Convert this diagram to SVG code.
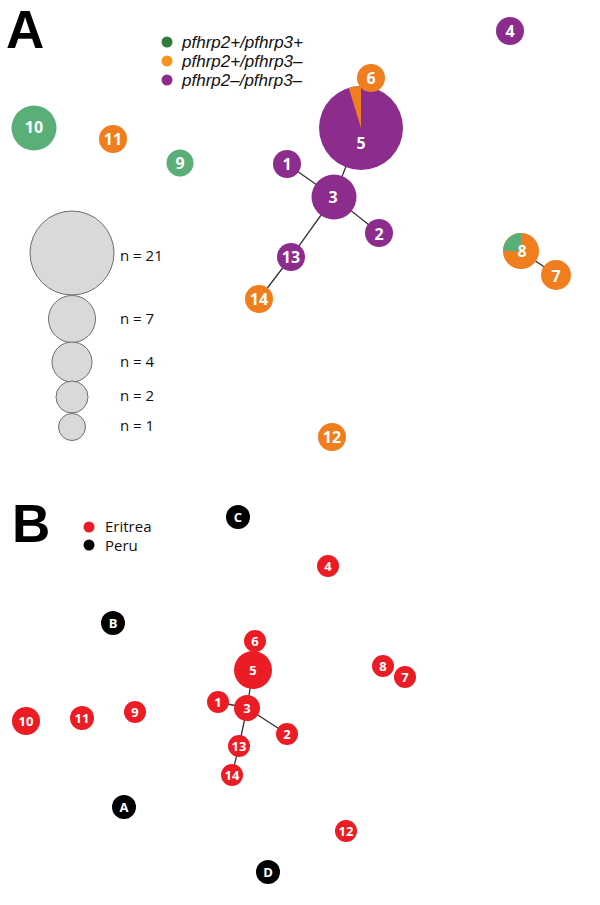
<svg xmlns="http://www.w3.org/2000/svg" width="600" height="905" viewBox="0 0 600 905">
<style>
.pl{font-family:"Liberation Sans",Arial,sans-serif;font-weight:bold;font-size:53px;fill:#000}
.lg{font-family:"Liberation Sans",Arial,sans-serif;font-style:italic;font-size:17px;fill:#111}
.lb{font-family:"Open Sans","Liberation Sans",sans-serif;font-size:15px;fill:#111}
.t{font-family:"Open Sans","Liberation Sans",sans-serif;font-weight:bold;font-size:16px;fill:#fff;text-anchor:middle;dominant-baseline:central}
.ts{font-family:"Open Sans","Liberation Sans",sans-serif;font-weight:bold;font-size:13px;fill:#fff;text-anchor:middle;dominant-baseline:central}
.g{fill:#5aaf78}.o{fill:#f07e1e}.p{fill:#8c2d8e}.r{fill:#ec1c24}.k{fill:#000}
.sz{fill:#d9d9d9;stroke:#6d6d6d;stroke-width:1}
.e{stroke:#333;stroke-width:1.3;fill:none}
</style>
<text class="pl" x="6" y="48">A</text>
<g id="legendA">
<circle cx="167" cy="42" r="5.5" fill="#2e7d3c"/><text class="lg" x="182" y="48">pfhrp2+/pfhrp3+</text>
<circle cx="167" cy="61" r="5.5" fill="#f7941d"/><text class="lg" x="182" y="67">pfhrp2+/pfhrp3–</text>
<circle cx="167" cy="80" r="5.5" fill="#8c2d8e"/><text class="lg" x="182" y="86">pfhrp2–/pfhrp3–</text>
</g>
<g id="sizeLegend">
<circle class="sz" cx="72" cy="253" r="42"/><text class="lb" x="120" y="261">n = 21</text>
<circle class="sz" cx="72" cy="319" r="23.5"/><text class="lb" x="120" y="324">n = 7</text>
<circle class="sz" cx="72" cy="362" r="20"/><text class="lb" x="120" y="367">n = 4</text>
<circle class="sz" cx="72" cy="397" r="16"/><text class="lb" x="120" y="401">n = 2</text>
<circle class="sz" cx="72" cy="427" r="13.5"/><text class="lb" x="120" y="431">n = 1</text>
</g>
<g id="edgesA">
<line class="e" x1="287" y1="164" x2="334" y2="197"/>
<line class="e" x1="334" y1="197" x2="361" y2="128"/>
<line class="e" x1="334" y1="197" x2="379" y2="233"/>
<line class="e" x1="334" y1="197" x2="291" y2="257"/>
<line class="e" x1="291" y1="257" x2="259" y2="299"/>
<line class="e" x1="521" y1="251" x2="556" y2="275"/>
</g>
<g id="A10"><circle class="g" cx="34" cy="128" r="22.5"/><text class="t" x="34" y="127">10</text></g>
<g id="A11"><circle class="o" cx="113" cy="139" r="14"/><text class="t" x="113" y="139">11</text></g>
<g id="A9"><circle class="g" cx="180" cy="163" r="13.5"/><text class="t" x="180" y="163">9</text></g>
<g id="A5"><circle class="p" cx="361" cy="128" r="42"/><path class="o" d="M361,128 L361,86 A42,42 0 0 0 348.7,87.8 Z"/><text class="t" x="361" y="143">5</text></g>
<g id="A6"><circle class="o" cx="371" cy="78" r="14"/><text class="t" x="371" y="78">6</text></g>
<g id="A1"><circle class="p" cx="287" cy="164" r="14"/><text class="t" x="287" y="164">1</text></g>
<g id="A3"><circle class="p" cx="334" cy="197" r="22.5"/><text class="t" x="333" y="197">3</text></g>
<g id="A2"><circle class="p" cx="379" cy="233" r="14"/><text class="t" x="379" y="234">2</text></g>
<g id="A13"><circle class="p" cx="291" cy="257" r="14"/><text class="t" x="291" y="257">13</text></g>
<g id="A14"><circle class="o" cx="259" cy="299" r="14"/><text class="t" x="259" y="299">14</text></g>
<g id="A4"><circle class="p" cx="510" cy="31" r="14"/><text class="t" x="510" y="31">4</text></g>
<g id="A8"><circle class="o" cx="521" cy="251" r="18"/><path class="g" d="M521,251 L521,233 A18,18 0 0 0 503,251 Z"/><text class="t" x="522" y="251">8</text></g>
<g id="A7"><circle class="o" cx="556" cy="275" r="15"/><text class="t" x="556" y="276">7</text></g>
<g id="A12"><circle class="o" cx="332" cy="437" r="14"/><text class="t" x="332" y="437">12</text></g>

<text class="pl" x="12" y="542">B</text>
<g id="legendB">
<circle cx="89" cy="527" r="5.5" fill="#ec1c24"/><text class="lb" x="105" y="532">Eritrea</text>
<circle cx="89" cy="545" r="5.5" fill="#000"/><text class="lb" x="105" y="551">Peru</text>
</g>
<g id="edgesB">
<line class="e" x1="253" y1="670" x2="247" y2="708"/>
<line class="e" x1="218" y1="702" x2="247" y2="708"/>
<line class="e" x1="247" y1="708" x2="287" y2="734"/>
<line class="e" x1="247" y1="708" x2="239" y2="746"/>
<line class="e" x1="239" y1="746" x2="232" y2="775"/>
</g>
<g id="BC"><circle class="k" cx="238" cy="517" r="12"/><text class="ts" x="238" y="517">C</text></g>
<g id="BB"><circle class="k" cx="113" cy="623" r="12"/><text class="ts" x="113" y="623">B</text></g>
<g id="BA"><circle class="k" cx="124" cy="807" r="12"/><text class="ts" x="124" y="807">A</text></g>
<g id="BD"><circle class="k" cx="268" cy="872" r="12"/><text class="ts" x="268" y="872">D</text></g>
<g id="B4"><circle class="r" cx="328" cy="566" r="11"/><text class="ts" x="328" y="566">4</text></g>
<g id="B6"><circle class="r" cx="255" cy="641" r="11"/><text class="ts" x="255" y="641">6</text></g>
<g id="B5"><circle class="r" cx="253" cy="670" r="19"/><text class="ts" x="253" y="670">5</text></g>
<g id="B1"><circle class="r" cx="218" cy="702" r="11"/><text class="ts" x="218" y="702">1</text></g>
<g id="B3"><circle class="r" cx="247" cy="708" r="13"/><text class="ts" x="247" y="708">3</text></g>
<g id="B2"><circle class="r" cx="287" cy="734" r="11"/><text class="ts" x="287" y="734">2</text></g>
<g id="B13"><circle class="r" cx="239" cy="746" r="11"/><text class="ts" x="239" y="746">13</text></g>
<g id="B14"><circle class="r" cx="232" cy="775" r="11"/><text class="ts" x="232" y="775">14</text></g>
<g id="B8"><circle class="r" cx="383" cy="666" r="11"/><text class="ts" x="383" y="666">8</text></g>
<g id="B7"><circle class="r" cx="405" cy="677" r="11"/><text class="ts" x="405" y="677">7</text></g>
<g id="B10"><circle class="r" cx="26" cy="721" r="14"/><text class="ts" x="26" y="721">10</text></g>
<g id="B11"><circle class="r" cx="82" cy="718" r="12"/><text class="ts" x="82" y="718">11</text></g>
<g id="B9"><circle class="r" cx="135" cy="712" r="11"/><text class="ts" x="135" y="712">9</text></g>
<g id="B12"><circle class="r" cx="346" cy="831" r="11"/><text class="ts" x="346" y="831">12</text></g>
</svg>
